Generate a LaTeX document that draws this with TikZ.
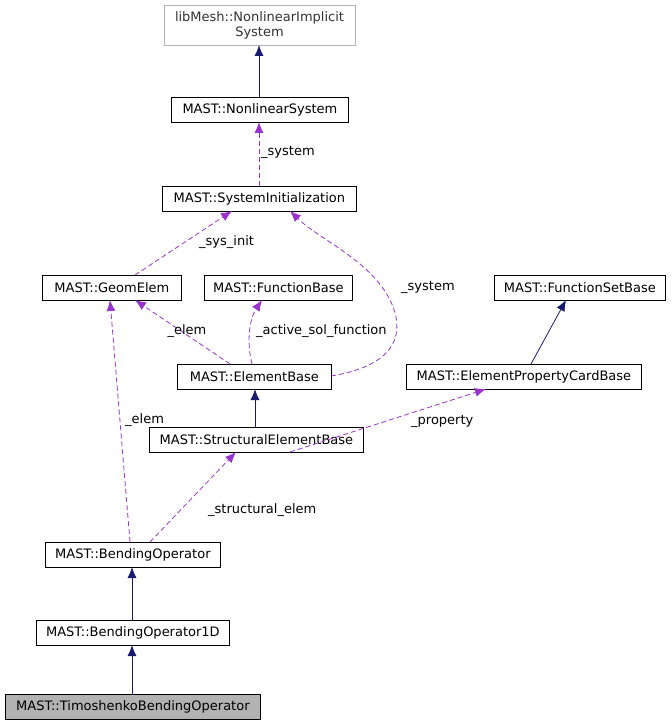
\documentclass[tikz,border=0pt]{standalone}
\usepackage{fontspec}
\setmainfont{DejaVu Sans}
\usetikzlibrary{arrows.meta}
\definecolor{navy}{HTML}{191970}
\definecolor{dpurple}{HTML}{9A32CD}
\begin{document}
\begin{tikzpicture}[x=1pt,y=-1pt,
  box/.style={draw=black,line width=0.8pt,fill=white,inner sep=0pt,anchor=north west},
  inh/.style={draw=navy,line width=0.8pt,-{Latex[length=11pt,width=9pt]}},
  use/.style={draw=dpurple,line width=0.8pt,dashed,dash pattern=on 5pt off 3pt,-{Latex[length=11pt,width=9pt]}},
  lab/.style={font=\fontsize{13}{15}\selectfont,text=black,inner sep=1pt}]
\useasboundingbox (0,0) rectangle (671,727);
\newcommand{\bx}[6]{\node[box,minimum width=#4-#2,minimum height=#5-#3,#6] (#1) at (#2,#3) {};}
\bx{lib}{164}{5}{355}{45}{draw=gray!60}
\node[font=\fontsize{13}{15}\selectfont,align=center,text=black!80] at (259.5,25) {libMesh::NonlinearImplicit\\System};
\bx{ns}{171}{97}{348}{122}{} \node[lab] at (ns.center) {MAST::NonlinearSystem};
\bx{si}{162}{186}{356}{211}{} \node[lab] at (si.center) {MAST::SystemInitialization};
\bx{ge}{42}{275}{181}{300}{} \node[lab] at (ge.center) {MAST::GeomElem};
\bx{fb}{204}{275}{352}{300}{} \node[lab] at (fb.center) {MAST::FunctionBase};
\bx{fsb}{494}{275}{665}{300}{} \node[lab] at (fsb.center) {MAST::FunctionSetBase};
\bx{eb}{177}{364}{331}{389}{} \node[lab] at (eb.center) {MAST::ElementBase};
\bx{epc}{406}{364}{641}{389}{} \node[lab] at (epc.center) {MAST::ElementPropertyCardBase};
\bx{seb}{149}{427}{363}{452}{} \node[lab] at (seb.center) {MAST::StructuralElementBase};
\bx{bo}{45}{542}{220}{567}{} \node[lab] at (bo.center) {MAST::BendingOperator};
\bx{bo1}{36}{620}{229}{645}{} \node[lab] at (bo1.center) {MAST::BendingOperator1D};
\bx{tbo}{5}{694}{260}{719}{fill=gray!60} \node[lab] at (tbo.center) {MAST::TimoshenkoBendingOperator};
\coordinate (c1) at (259,45); \coordinate (c2) at (259,97);
\draw[inh] (c2) -- (c1);
\draw[use] (259,186) -- (259,122);
\node[lab,anchor=west] at (260,152) {\_system};
\draw[use] (135,275) -- (232,211);
\node[lab,anchor=west] at (198,242) {\_sys\_init};
\draw[use] (230,364) -- (135,300);
\node[lab] at (187,331) {\_elem};
\draw[use] (252,364) .. controls (246,340) and (250,318) .. (262,300);
\node[lab,anchor=west] at (255,331) {\_active\_sol\_function};
\draw[use] (331,376) .. controls (400,365) and (405,330) .. (390,300) .. controls (370,260) and (320,240) .. (290,211);
\node[lab,anchor=west] at (400,287) {\_system};
\draw[inh] (531,364) -- (566,300);
\draw[inh] (255,427) -- (255,389);
\draw[use] (290,452) -- (486,389);
\node[lab,anchor=west] at (410,421) {\_property};
\draw[use] (150,542) -- (236,452);
\node[lab,anchor=west] at (207,510) {\_structural\_elem};
\draw[use] (130,542) -- (110,300);
\node[lab,anchor=west] at (124,420) {\_elem};
\draw[inh] (132,620) -- (132,567);
\draw[inh] (132,694) -- (132,645);
\end{tikzpicture}
\end{document}
